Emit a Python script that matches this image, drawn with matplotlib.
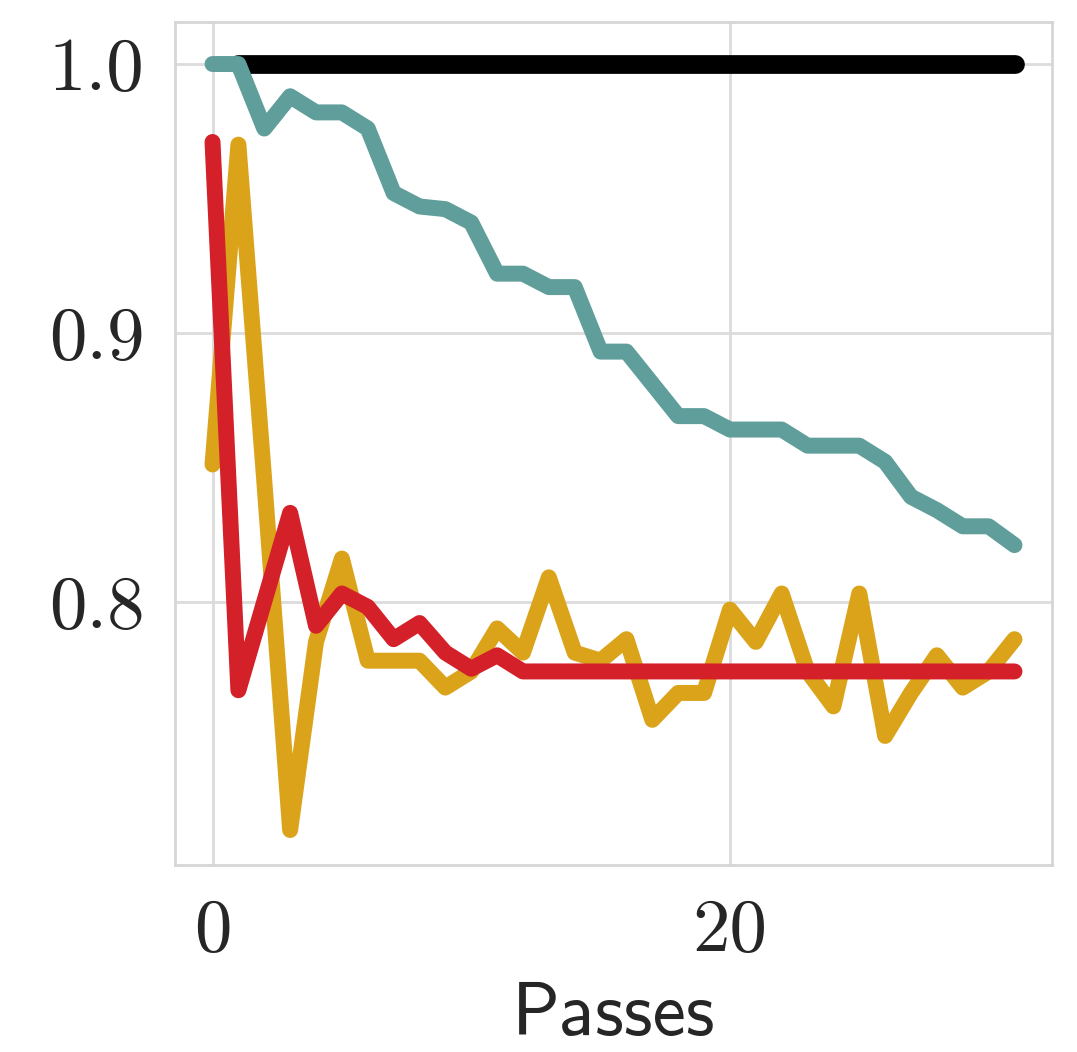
import matplotlib
matplotlib.use("Agg")
import matplotlib.pyplot as plt
import numpy as np

passes = list(range(32))
black_passes = list(range(1, 32))
black_vals = [1.0] * 31
teal_vals = [1.0, 1.0, 0.976, 0.988, 0.982, 0.982, 0.976, 0.952, 0.947, 0.946,
             0.941, 0.922, 0.922, 0.917, 0.917, 0.893, 0.893, 0.881, 0.869, 0.869,
             0.864, 0.864, 0.864, 0.858, 0.858, 0.858, 0.852, 0.839, 0.834, 0.828,
             0.828, 0.821]
gold_vals = [0.851, 0.970, 0.845, 0.715, 0.785, 0.816, 0.778, 0.778, 0.778, 0.768,
             0.774, 0.790, 0.781, 0.809, 0.781, 0.778, 0.786, 0.756, 0.766, 0.766,
             0.797, 0.785, 0.803, 0.774, 0.761, 0.803, 0.750, 0.766, 0.780, 0.768,
             0.774, 0.786]
red_vals = [0.971, 0.767, 0.800, 0.833, 0.791, 0.803, 0.798, 0.786, 0.792, 0.781,
            0.775, 0.780, 0.774, 0.774, 0.774, 0.774, 0.774, 0.774, 0.774, 0.774,
            0.774, 0.774, 0.774, 0.774, 0.774, 0.774, 0.774, 0.774, 0.774, 0.774,
            0.774, 0.774]
xticks = [0, 20]
yticks = [0.8, 0.9, 1.0]
ytick_labels = ["0.8", "0.9", "1.0"]

text_color = "#262626"

fig = plt.figure(figsize=(10.77, 10.52), dpi=100)
ax = fig.add_axes([0.1625, 0.1778, 0.9768 - 0.1625, 0.979 - 0.1778])

ax.plot(black_passes, black_vals, color="black", lw=13.5, solid_capstyle="round", zorder=3)
ax.plot(passes, teal_vals, color="#5F9E9A", lw=11.5, solid_capstyle="round",
        solid_joinstyle="round", zorder=4)
ax.plot(passes, gold_vals, color="#DAA31A", lw=11.5, solid_capstyle="round",
        solid_joinstyle="round", zorder=5)
ax.plot(passes, red_vals, color="#D42029", lw=11.5, solid_capstyle="round",
        solid_joinstyle="round", zorder=6)

ax.set_xlim(-1.45, 32.45)
ax.set_ylim(0.702, 1.0156)
ax.set_xticks(xticks)
ax.set_xticklabels([str(t) for t in xticks])
ax.set_yticks(yticks)
ax.set_yticklabels(ytick_labels)

for lab in ax.get_xticklabels() + ax.get_yticklabels():
    lab.set_fontfamily("cmr10")
    lab.set_fontsize(54)
    lab.set_color(text_color)
ax.tick_params(axis="both", length=0)
ax.tick_params(axis="y", pad=22)
ax.tick_params(axis="x", pad=24)

ax.grid(True, color="#dcdcdc", lw=2, zorder=0)
ax.set_axisbelow(True)
for sp in ax.spines.values():
    sp.set_color("#d6d6d6")
    sp.set_linewidth(2)

ax.set_xlabel("Passes", fontfamily="cmss10", fontsize=54, labelpad=12,
              color=text_color)

fig.savefig("out.png", dpi=100)
